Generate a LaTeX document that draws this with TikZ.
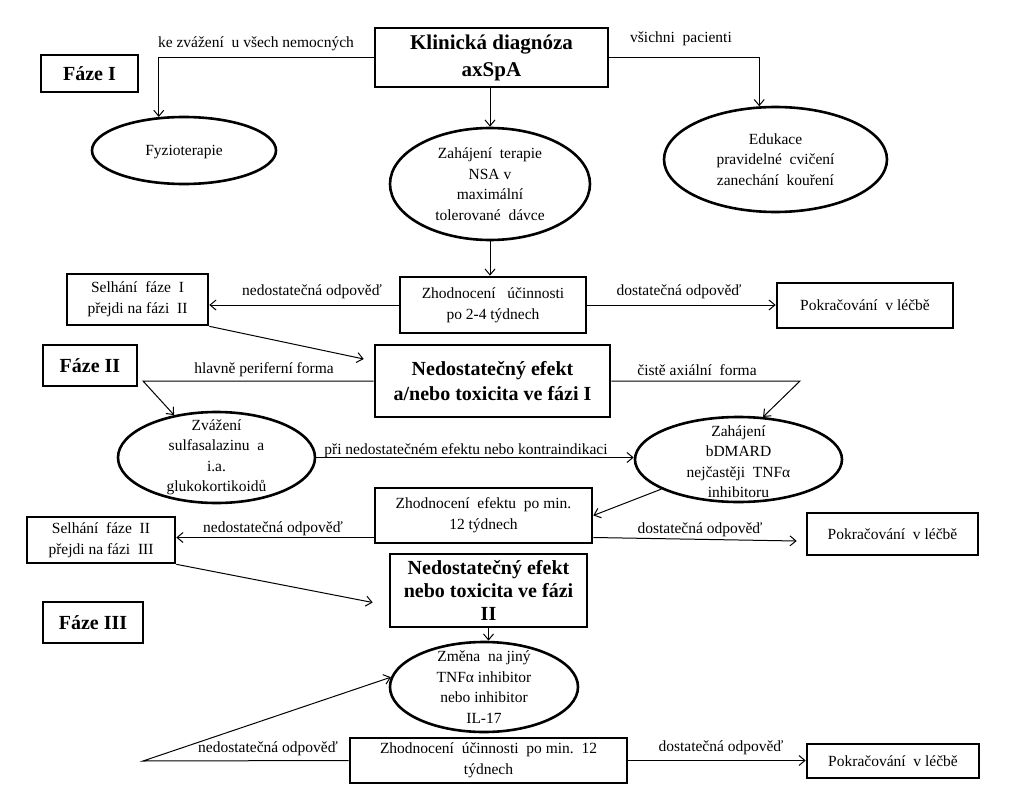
\documentclass[tikz,border=0pt]{standalone}
\usepackage{fontspec}
\setmainfont{Liberation Serif}
\usetikzlibrary{shapes.geometric,arrows.meta,calc}
\begin{document}
\begin{tikzpicture}[x=1pt,y=-1pt,
 box/.style={draw, line width=2.6pt, inner sep=0pt, align=center, font=\fontsize{15.5}{21}\selectfont},
 hbox/.style={box, font=\fontsize{20}{24.5}\selectfont\bfseries},
 ell/.style={draw, ellipse, line width=2.6pt, inner sep=0pt},
 etext/.style={inner sep=0pt, align=center, font=\fontsize{15.5}{20.5}\selectfont},
 conn/.style={line width=1pt, -{Straight Barb[length=6pt,width=10pt]}},
 lbl/.style={inner sep=0pt, font=\fontsize{15.5}{18}\selectfont}]
\fill[white] (0,0) rectangle (1010,800);
\useasboundingbox (0,0) rectangle (1010,800);

% Phase I
\node[hbox, minimum width=97pt, minimum height=37pt] (faze1) at (89.5,73.5) {Fáze I};
\node[hbox, minimum width=233pt, minimum height=59pt, font=\fontsize{21}{27}\selectfont\bfseries] (klin) at (491.5,57.5) {Klinická diagnóza\\axSpA};
\node[ell, minimum width=184pt, minimum height=67pt] (fyz) at (184,150.5) {};
\node[etext] (fyzt) at ([yshift=-1.5pt]fyz.center) {Fyzioterapie};
\node[ell, minimum width=223pt, minimum height=105pt] (edu) at (775.5,159.5) {};
\node[etext] (edut) at (edu) {Edukace\\pravidelné\ \ cvičení\\zanechání\ \ kouření};
\node[ell, minimum width=200pt, minimum height=112pt] (zah) at (490,184) {};
\node[etext] (zaht) at (zah) {Zahájení\ \ terapie\\NSA v\\maximální\\tolerované\ \ dávce};
\node[box, minimum width=186pt, minimum height=56pt] (zh1) at (493,305) {Zhodnocení\ \ \ účinnosti\\po 2-4 týdnech};
\node[box, minimum width=141pt, minimum height=51pt] (sel1) at (137.5,299.5) {Selhání\ \ fáze\ \ I\\přejdi na fázi\ \ II};
\node[box, minimum width=176pt, minimum height=45pt] (pok1) at (865,305.5) {Pokračování\ \ v léčbě};

% Phase II
\node[hbox, minimum width=94pt, minimum height=41pt] (faze2) at (90,365.5) {Fáze II};
\node[hbox, minimum width=235pt, minimum height=72pt] (ned1) at (492.5,381) {Nedostatečný efekt\\a/nebo toxicita ve fázi I};
\node[ell, minimum width=197pt, minimum height=91pt] (zva) at (216.5,457.5) {};
\node[etext] (zvat) at (zva) {Zvážení\\sulfasalazinu\ \ a\\i.a.\\glukokortikoidů};
\node[ell, minimum width=207pt, minimum height=85pt] (bdm) at (738.5,459.5) {};
\node[etext] (bdmt) at ([yshift=-2pt]bdm.center) {Zahájení\\bDMARD\\nejčastěji\ \ TNFα\\inhibitoru};
\node[box, minimum width=217pt, minimum height=55pt] (zh2) at (483.5,515.5) {Zhodnocení\ \ efektu\ \ po min.\\12 týdnech};
\node[box, minimum width=148pt, minimum height=46pt] (sel2) at (101,540) {Selhání\ \ fáze\ \ II\\přejdi na fázi\ \ III};
\node[box, minimum width=171pt, minimum height=42pt] (pok2) at (892.5,534) {Pokračování\ \ v léčbě};
\node[hbox, minimum width=197pt, minimum height=73pt, font=\fontsize{20}{23}\selectfont\bfseries] (ned2) at (488.5,590.5) {Nedostatečný efekt\\nebo toxicita ve fázi\\II};

% Phase III
\node[hbox, minimum width=100pt, minimum height=41pt] (faze3) at (93,622.5) {Fáze III};
\node[ell, minimum width=188pt, minimum height=90pt] (zmena) at (484,687) {};
\node[etext] (zment) at (zmena) {Změna\ \ na jiný\\TNFα inhibitor\\nebo inhibitor\\IL-17};
\node[box, minimum width=277pt, minimum height=45pt] (zh3) at (488.5,760.5) {Zhodnocení\ \ účinnosti\ \ po min.\ \ 12\\týdnech};
\node[box, minimum width=172pt, minimum height=34pt] (pok3) at (893,761) {Pokračování\ \ v léčbě};

% connectors
\draw[conn] (klin.west) -| (fyz.127);
\draw[conn] (klin.east) -| (edu.107);
\draw[conn] (klin.south -| zah.north) -- (zah.north);
\draw[conn] (zah.south) -- (zah.south |- zh1.north);
\draw[conn] (zh1.west) -- (zh1.west -| sel1.east);
\draw[conn] (zh1.east) -- (zh1.east -| pok1.west);
\draw[conn] (sel1.south east) -- ([xshift=-10pt,yshift=22pt]ned1.west);
\coordinate (c1) at (143,381);
\draw[conn] (ned1.west) -- (c1) -- (zva.135);
\coordinate (c2) at (800,381);
\draw[conn] (ned1.east) -- (c2) -- (bdm.60);
\draw[conn] (zva.east) -- (zva.east -| bdm.west);
\draw[conn] (bdm.201) -- (zh2.east);
\coordinate (z2w) at ([yshift=-22pt]zh2.west);
\coordinate (z2e) at ([yshift=-22pt]zh2.east);
\draw[conn] (z2w) -- (z2w -| sel2.east);
\draw[conn] (z2e) -- ([xshift=-9pt,yshift=-7pt]pok2.west);
\draw[conn] (sel2.south east) -- ([xshift=-16pt,yshift=-12pt]ned2.west);
\draw[conn] (ned2.south) -- (ned2.south |- zmena.north);
\coordinate (c3) at (143,761);
\draw[conn] (zh3.west) -- (c3) -- (zmena.174);
\draw[conn] (zh3.east) -- (zh3.east -| pok3.west);

% labels
\node[lbl] (l1) at (256,44) {ke zvážení\ \ u všech nemocných};
\node[lbl] (l2) at (681,39) {všichni\ \ pacienti};
\node[lbl] (l3) at (312,292) {nedostatečná odpověď};
\node[lbl] (l4) at (679,292) {dostatečná odpověď};
\node[lbl] (l5) at (264,370) {hlavně periferní forma};
\node[lbl] (l6) at (697,370) {čistě axiální\ \ forma};
\node[lbl] (l7) at (466,451) {při nedostatečném efektu nebo kontraindikaci};
\node[lbl] (l8) at (273,529) {nedostatečná odpověď};
\node[lbl] (l9) at (700,530) {dostatečná odpověď};
\node[lbl] (l10) at (268,749) {nedostatečná odpověď};
\node[lbl] (l11) at (721,748) {dostatečná odpověď};
\end{tikzpicture}
\end{document}
